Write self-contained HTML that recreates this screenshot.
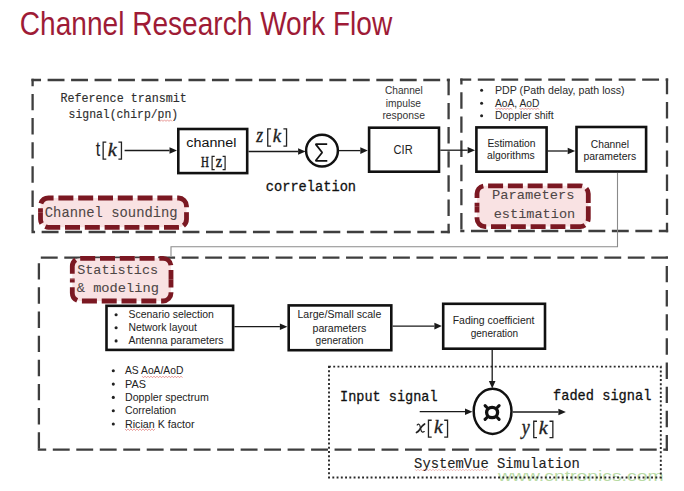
<!DOCTYPE html>
<html><head><meta charset="utf-8">
<style>
html,body{margin:0;padding:0;background:#fff;width:684px;height:491px;overflow:hidden}
svg{position:absolute;left:0;top:0;display:block}
</style></head><body>
<svg width="684" height="491" viewBox="0 0 684 491">
<text transform="translate(498.04,480.50) scale(1.2489,1.0000)" font-family="'Liberation Sans', sans-serif" font-weight="normal" font-style="normal" font-size="15.5" fill="#b9dba5">www.cntronics.com</text>
<text transform="translate(19.80,34.70) scale(0.8260,1.0000)" font-family="'Liberation Sans', sans-serif" font-weight="normal" font-style="normal" font-size="34" fill="#9e1b36">Channel Research Work Flow</text>
<path d="M31.45,80.00H41.02 M47.60,80.00H64.50 M71.08,80.00H87.98 M94.56,80.00H111.46 M118.04,80.00H134.94 M141.52,80.00H158.42 M165.00,80.00H181.90 M188.48,80.00H205.38 M211.96,80.00H228.86 M235.44,80.00H252.34 M258.92,80.00H275.82 M282.40,80.00H299.30 M305.88,80.00H322.78 M329.36,80.00H346.26 M352.84,80.00H369.74 M376.32,80.00H393.22 M399.80,80.00H416.70 M423.28,80.00H440.18 M446.76,80.00H449.75" stroke="#3e3e3e" stroke-width="2.3" fill="none"/>
<path d="M448.60,78.85V95.15 M448.60,102.90V119.30 M448.60,127.05V143.45 M448.60,151.20V167.60 M448.60,175.35V191.75 M448.60,199.50V215.90 M448.60,223.65V233.15" stroke="#3e3e3e" stroke-width="2.3" fill="none"/>
<path d="M31.45,232.00H35.06 M41.64,232.00H58.54 M65.12,232.00H82.02 M88.60,232.00H105.50 M112.08,232.00H128.98 M135.56,232.00H152.46 M159.04,232.00H175.94 M182.52,232.00H199.42 M206.00,232.00H222.90 M229.48,232.00H246.38 M252.96,232.00H269.86 M276.44,232.00H293.34 M299.92,232.00H316.82 M323.40,232.00H340.30 M346.88,232.00H363.78 M370.36,232.00H387.26 M393.84,232.00H410.74 M417.32,232.00H434.22 M440.80,232.00H449.75" stroke="#3e3e3e" stroke-width="2.3" fill="none"/>
<path d="M32.60,78.85V86.15 M32.60,93.90V110.30 M32.60,118.05V134.45 M32.60,142.20V158.60 M32.60,166.35V182.75 M32.60,190.50V206.90 M32.60,214.65V231.05" stroke="#3e3e3e" stroke-width="2.3" fill="none"/>
<path d="M460.25,79.60H471.22 M477.80,79.60H494.70 M501.28,79.60H518.18 M524.76,79.60H541.66 M548.24,79.60H565.14 M571.72,79.60H588.62 M595.20,79.60H612.10 M618.68,79.60H635.58 M642.16,79.60H659.06 M665.64,79.60H668.15" stroke="#3e3e3e" stroke-width="2.3" fill="none"/>
<path d="M667.00,78.45V94.35 M667.00,102.10V118.50 M667.00,126.25V142.65 M667.00,150.40V166.80 M667.00,174.55V190.95 M667.00,198.70V215.10 M667.00,222.85V232.15" stroke="#3e3e3e" stroke-width="2.3" fill="none"/>
<path d="M460.25,231.00H464.40 M470.98,231.00H487.88 M494.46,231.00H511.36 M517.94,231.00H534.84 M541.42,231.00H558.32 M564.90,231.00H581.80 M588.38,231.00H605.28 M611.86,231.00H628.76 M635.34,231.00H652.24 M658.82,231.00H668.15" stroke="#3e3e3e" stroke-width="2.3" fill="none"/>
<path d="M461.40,78.45V84.55 M461.40,92.30V108.70 M461.40,116.45V132.85 M461.40,140.60V157.00 M461.40,164.75V181.15 M461.40,188.90V205.30 M461.40,213.05V229.45" stroke="#3e3e3e" stroke-width="2.3" fill="none"/>
<path d="M40.80,257.70H57.70 M64.28,257.70H81.18 M87.76,257.70H104.66 M111.24,257.70H128.14 M134.72,257.70H151.62 M158.20,257.70H175.10 M181.68,257.70H198.58 M205.16,257.70H222.06 M228.64,257.70H245.54 M252.12,257.70H269.02 M275.60,257.70H292.50 M299.08,257.70H315.98 M322.56,257.70H339.46 M346.04,257.70H362.94 M369.52,257.70H386.42 M393.00,257.70H409.90 M416.48,257.70H433.38 M439.96,257.70H456.86 M463.44,257.70H480.34 M486.92,257.70H503.82 M510.40,257.70H527.30 M533.88,257.70H550.78 M557.36,257.70H574.26 M580.84,257.70H597.74 M604.32,257.70H621.22 M627.80,257.70H644.70 M651.28,257.70H667.95" stroke="#3e3e3e" stroke-width="2.3" fill="none"/>
<path d="M666.80,256.55V258.15 M666.80,265.90V282.30 M666.80,290.05V306.45 M666.80,314.20V330.60 M666.80,338.35V354.75 M666.80,362.50V378.90 M666.80,386.65V403.05 M666.80,410.80V427.20 M666.80,434.95V450.75" stroke="#3e3e3e" stroke-width="2.3" fill="none"/>
<path d="M37.75,449.60H46.22 M52.80,449.60H69.70 M76.28,449.60H93.18 M99.76,449.60H116.66 M123.24,449.60H140.14 M146.72,449.60H163.62 M170.20,449.60H187.10 M193.68,449.60H210.58 M217.16,449.60H234.06 M240.64,449.60H257.54 M264.12,449.60H281.02 M287.60,449.60H304.50 M311.08,449.60H327.98 M334.56,449.60H351.46 M358.04,449.60H374.94 M381.52,449.60H398.42 M405.00,449.60H421.90 M428.48,449.60H445.38 M451.96,449.60H468.86 M475.44,449.60H492.34 M498.92,449.60H515.82 M522.40,449.60H539.30 M545.88,449.60H562.78 M569.36,449.60H586.26 M592.84,449.60H609.74 M616.32,449.60H633.22 M639.80,449.60H656.70 M663.28,449.60H667.95" stroke="#3e3e3e" stroke-width="2.3" fill="none"/>
<path d="M38.90,263.20V279.60 M38.90,287.35V303.75 M38.90,311.50V327.90 M38.90,335.65V352.05 M38.90,359.80V376.20 M38.90,383.95V400.35 M38.90,408.10V424.50 M38.90,432.25V448.65" stroke="#3e3e3e" stroke-width="2.3" fill="none"/>
<rect x="329.0" y="366.6" width="331.79999999999995" height="110.89999999999998" fill="none" stroke="#2a2a2a" stroke-width="1.9" stroke-dasharray="1.9 2.35"/>
<path d="M617.5,173 V246.8 H171 V256" fill="none" stroke="#8a8a8a" stroke-width="1.1"/>
<path d="M40.50,206.00 A8,8 0 0 1 48.50,198.00 H178.50 A8,8 0 0 1 186.50,206.00 V219.30 A8,8 0 0 1 178.50,227.30 H48.50 A8,8 0 0 1 40.50,219.30 Z" fill="#f9e2e3" stroke="none"/><path d="M40.50,212.65 V206.00 A8,8 0 0 1 48.50,198.00 H178.50 A8,8 0 0 1 186.50,206.00 V212.65" fill="none" stroke="#7b1822" stroke-width="4.8" stroke-dasharray="15.0 4.8" stroke-dashoffset="10.58"/><path d="M186.50,212.65 V219.30 A8,8 0 0 1 178.50,227.30 H48.50 A8,8 0 0 1 40.50,219.30 V212.65" fill="none" stroke="#7b1822" stroke-width="4.8" stroke-dasharray="15.0 4.8" stroke-dashoffset="1.18"/>
<path d="M477.00,193.80 A8,8 0 0 1 485.00,185.80 H580.30 A8,8 0 0 1 588.30,193.80 V218.60 A8,8 0 0 1 580.30,226.60 H485.00 A8,8 0 0 1 477.00,218.60 Z" fill="#f9e2e3" stroke="none"/><path d="M477.00,206.20 V193.80 A8,8 0 0 1 485.00,185.80 H580.30 A8,8 0 0 1 588.30,193.80 V206.20" fill="none" stroke="#7b1822" stroke-width="4.8" stroke-dasharray="15.0 4.8" stroke-dashoffset="11.63"/><path d="M588.30,206.20 V218.60 A8,8 0 0 1 580.30,226.60 H485.00 A8,8 0 0 1 477.00,218.60 V206.20" fill="none" stroke="#7b1822" stroke-width="4.8" stroke-dasharray="15.0 4.8" stroke-dashoffset="19.63"/>
<path d="M72.30,266.30 A8,8 0 0 1 80.30,258.30 H163.00 A8,8 0 0 1 171.00,266.30 V293.00 A8,8 0 0 1 163.00,301.00 H80.30 A8,8 0 0 1 72.30,293.00 Z" fill="#f9e2e3" stroke="none"/><path d="M72.30,279.65 V266.30 A8,8 0 0 1 80.30,258.30 H163.00 A8,8 0 0 1 171.00,266.30 V279.65" fill="none" stroke="#7b1822" stroke-width="4.8" stroke-dasharray="15.0 4.8" stroke-dashoffset="13.88"/><path d="M171.00,279.65 V293.00 A8,8 0 0 1 163.00,301.00 H80.30 A8,8 0 0 1 72.30,293.00 V279.65" fill="none" stroke="#7b1822" stroke-width="4.8" stroke-dasharray="15.0 4.8" stroke-dashoffset="7.08"/>
<rect x="178.30" y="129.00" width="68.90" height="44.10" fill="none" stroke="#111" stroke-width="2.6"/>
<rect x="369.10" y="127.70" width="69.90" height="44.00" fill="none" stroke="#111" stroke-width="2.6"/>
<rect x="476.40" y="127.40" width="70.20" height="44.30" fill="none" stroke="#111" stroke-width="2.6"/>
<rect x="576.50" y="127.00" width="69.60" height="44.50" fill="none" stroke="#111" stroke-width="2.6"/>
<rect x="106.50" y="305.80" width="126.60" height="44.10" fill="none" stroke="#111" stroke-width="2.6"/>
<rect x="288.70" y="305.40" width="102.60" height="44.80" fill="none" stroke="#111" stroke-width="2.6"/>
<rect x="443.20" y="303.80" width="101.80" height="44.90" fill="none" stroke="#111" stroke-width="2.6"/>
<circle cx="322.0" cy="150.7" r="15.9" fill="none" stroke="#111" stroke-width="2.5"/>
<ellipse cx="492.6" cy="411.3" rx="18.9" ry="22.6" fill="none" stroke="#111" stroke-width="2.5"/>
<path d="M124.60,150.50 L169.50,150.50" stroke="#1a1a1a" stroke-width="1.3" fill="none"/><path d="M177.00,150.50 L169.50,153.80 L169.50,147.20 Z" fill="#1a1a1a"/>
<path d="M248.50,151.50 L298.10,151.50" stroke="#1a1a1a" stroke-width="1.3" fill="none"/><path d="M305.60,151.50 L298.10,154.80 L298.10,148.20 Z" fill="#1a1a1a"/>
<path d="M338.60,150.60 L360.30,150.60" stroke="#1a1a1a" stroke-width="1.3" fill="none"/><path d="M367.80,150.60 L360.30,153.90 L360.30,147.30 Z" fill="#1a1a1a"/>
<path d="M440.30,150.20 L467.60,150.20" stroke="#1a1a1a" stroke-width="1.3" fill="none"/><path d="M475.10,150.20 L467.60,153.50 L467.60,146.90 Z" fill="#1a1a1a"/>
<path d="M547.90,151.00 L567.70,151.00" stroke="#1a1a1a" stroke-width="1.3" fill="none"/><path d="M575.20,151.00 L567.70,154.30 L567.70,147.70 Z" fill="#1a1a1a"/>
<path d="M234.40,326.70 L279.90,326.70" stroke="#1a1a1a" stroke-width="1.3" fill="none"/><path d="M287.40,326.70 L279.90,330.00 L279.90,323.40 Z" fill="#1a1a1a"/>
<path d="M392.60,326.10 L434.40,326.10" stroke="#1a1a1a" stroke-width="1.3" fill="none"/><path d="M441.90,326.10 L434.40,329.40 L434.40,322.80 Z" fill="#1a1a1a"/>
<path d="M492.20,350.00 L492.20,380.90" stroke="#1a1a1a" stroke-width="1.3" fill="none"/><path d="M492.20,388.40 L488.90,380.90 L495.50,380.90 Z" fill="#1a1a1a"/>
<path d="M419.70,411.70 L465.00,411.70" stroke="#1a1a1a" stroke-width="1.3" fill="none"/><path d="M472.50,411.70 L465.00,415.00 L465.00,408.40 Z" fill="#1a1a1a"/>
<path d="M512.80,412.00 L558.40,412.00" stroke="#1a1a1a" stroke-width="1.3" fill="none"/><path d="M565.90,412.00 L558.40,415.30 L558.40,408.70 Z" fill="#1a1a1a"/>
<text transform="translate(60.50,102.10) scale(0.9678,1.0000)" font-family="'Liberation Mono', monospace" font-weight="normal" font-style="normal" font-size="12.1" fill="#2e2e2e" stroke="#2e2e2e" stroke-width="0.14" stroke-linejoin="round">Reference transmit</text>
<text transform="translate(68.60,117.90) scale(0.9442,1.0000)" font-family="'Liberation Mono', monospace" font-weight="normal" font-style="normal" font-size="12.1" fill="#2e2e2e" stroke="#2e2e2e" stroke-width="0.14" stroke-linejoin="round">signal(chirp/pn)</text>
<text transform="translate(95.80,155.63) scale(0.1619,0.2110)" font-family="'Liberation Sans', sans-serif" font-weight="normal" font-style="normal" font-size="100.0" fill="#222">t</text>
<path d="M106.30,142.05 H103.15 V159.05 H106.30" fill="none" stroke="#222" stroke-width="1.3"/>
<text transform="translate(107.70,155.80) scale(0.2004,0.1902)" font-family="'Liberation Serif', serif" font-weight="normal" font-style="italic" font-size="100.0" fill="#222" stroke="#222" stroke-width="1.792" stroke-linejoin="round">k</text>
<path d="M118.40,142.05 H121.45 V159.05 H118.40" fill="none" stroke="#222" stroke-width="1.3"/>
<text transform="translate(186.30,147.40) scale(1.0939,1.0000)" font-family="'Liberation Sans', sans-serif" font-weight="normal" font-style="normal" font-size="13.1" fill="#111">channel</text>
<text transform="translate(201.00,166.70) scale(0.1094,0.1542)" font-family="'Liberation Serif', serif" font-weight="normal" font-style="normal" font-size="100.0" fill="#1a1a1a" stroke="#1a1a1a" stroke-width="3.414" stroke-linejoin="round">H</text>
<path d="M214.70,156.40 H212.10 V169.70 H214.70" fill="none" stroke="#222" stroke-width="1.2"/>
<text transform="translate(215.70,166.70) scale(0.1419,0.1569)" font-family="'Liberation Serif', serif" font-weight="normal" font-style="normal" font-size="100.0" fill="#1a1a1a" stroke="#1a1a1a" stroke-width="3.013" stroke-linejoin="round">z</text>
<path d="M222.60,156.40 H225.10 V169.70 H222.60" fill="none" stroke="#222" stroke-width="1.2"/>
<text transform="translate(256.31,141.70) scale(0.1771,0.2135)" font-family="'Liberation Serif', serif" font-weight="normal" font-style="italic" font-size="100.0" fill="#222" stroke="#222" stroke-width="1.792" stroke-linejoin="round">z</text>
<path d="M271.10,128.95 H267.75 V146.05 H271.10" fill="none" stroke="#222" stroke-width="1.3"/>
<text transform="translate(272.70,141.70) scale(0.1874,0.1916)" font-family="'Liberation Serif', serif" font-weight="normal" font-style="italic" font-size="100.0" fill="#222" stroke="#222" stroke-width="1.847" stroke-linejoin="round">k</text>
<path d="M283.40,128.95 H286.55 V146.05 H283.40" fill="none" stroke="#222" stroke-width="1.3"/>
<path d="M327.2,144.1 H315.6 L322.2,152.5 L315.6,160.8 H327.3" fill="none" stroke="#111" stroke-width="1.75" stroke-linejoin="bevel"/>
<text transform="translate(265.80,190.60) scale(0.9842,1.0000)" font-family="'Liberation Mono', monospace" font-weight="normal" font-style="normal" font-size="13.9" fill="#111" stroke="#111" stroke-width="0.28" stroke-linejoin="round">correlation</text>
<text transform="translate(385.00,93.90) scale(0.9396,1.0000)" font-family="'Liberation Sans', sans-serif" font-weight="normal" font-style="normal" font-size="10.8" fill="#333">Channel</text>
<text transform="translate(385.80,106.50) scale(0.9458,1.0000)" font-family="'Liberation Sans', sans-serif" font-weight="normal" font-style="normal" font-size="10.8" fill="#333">impulse</text>
<text transform="translate(382.40,119.20) scale(0.9588,1.0000)" font-family="'Liberation Sans', sans-serif" font-weight="normal" font-style="normal" font-size="10.8" fill="#333">response</text>
<text transform="translate(393.60,154.00) scale(0.8665,1.0000)" font-family="'Liberation Sans', sans-serif" font-weight="normal" font-style="normal" font-size="12.8" fill="#222">CIR</text>
<text transform="translate(487.40,147.20) scale(0.9058,1.0000)" font-family="'Liberation Sans', sans-serif" font-weight="normal" font-style="normal" font-size="11.4" fill="#222">Estimation</text>
<text transform="translate(487.00,159.00) scale(0.9070,1.0000)" font-family="'Liberation Sans', sans-serif" font-weight="normal" font-style="normal" font-size="11.4" fill="#222">algorithms</text>
<text transform="translate(590.80,147.60) scale(0.8841,1.0000)" font-family="'Liberation Sans', sans-serif" font-weight="normal" font-style="normal" font-size="11.6" fill="#222">Channel</text>
<text transform="translate(583.40,160.00) scale(0.8999,1.0000)" font-family="'Liberation Sans', sans-serif" font-weight="normal" font-style="normal" font-size="11.6" fill="#222">parameters</text>
<circle cx="481.6" cy="90.3" r="1.5" fill="#222"/>
<circle cx="481.6" cy="103.2" r="1.5" fill="#222"/>
<circle cx="481.6" cy="115.8" r="1.5" fill="#222"/>
<text transform="translate(495.00,93.70) scale(1.0446,1.0000)" font-family="'Liberation Sans', sans-serif" font-weight="normal" font-style="normal" font-size="10.2" fill="#2a2a2a">PDP (Path delay, path loss)</text>
<text transform="translate(495.00,106.60) scale(1.0062,1.0000)" font-family="'Liberation Sans', sans-serif" font-weight="normal" font-style="normal" font-size="10.2" fill="#2a2a2a">AoA, AoD</text>
<text transform="translate(495.00,119.20) scale(1.0251,1.0000)" font-family="'Liberation Sans', sans-serif" font-weight="normal" font-style="normal" font-size="10.2" fill="#2a2a2a">Doppler shift</text>
<text transform="translate(44.80,217.10) scale(0.9747,1.0000)" font-family="'Liberation Mono', monospace" font-weight="normal" font-style="normal" font-size="14.2" fill="#4e4646" stroke="#4e4646" stroke-width="0.08" stroke-linejoin="round">Channel sounding</text>
<text transform="translate(492.00,199.20) scale(1.0109,1.0000)" font-family="'Liberation Mono', monospace" font-weight="normal" font-style="normal" font-size="13.6" fill="#4e4646" stroke="#4e4646" stroke-width="0.08" stroke-linejoin="round">Parameters</text>
<text transform="translate(493.70,217.90) scale(0.9998,1.0000)" font-family="'Liberation Mono', monospace" font-weight="normal" font-style="normal" font-size="13.6" fill="#4e4646" stroke="#4e4646" stroke-width="0.08" stroke-linejoin="round">estimation</text>
<text transform="translate(77.20,273.70) scale(0.9913,1.0000)" font-family="'Liberation Mono', monospace" font-weight="normal" font-style="normal" font-size="13.6" fill="#4e4646" stroke="#4e4646" stroke-width="0.08" stroke-linejoin="round">Statistics</text>
<text transform="translate(76.70,291.90) scale(1.0084,1.0000)" font-family="'Liberation Mono', monospace" font-weight="normal" font-style="normal" font-size="13.6" fill="#4e4646" stroke="#4e4646" stroke-width="0.08" stroke-linejoin="round">&amp; modeling</text>
<circle cx="116.1" cy="314.8" r="1.55" fill="#222"/>
<circle cx="116.1" cy="327.8" r="1.55" fill="#222"/>
<circle cx="116.1" cy="340.9" r="1.55" fill="#222"/>
<text transform="translate(128.50,318.30) scale(0.9689,1.0000)" font-family="'Liberation Sans', sans-serif" font-weight="normal" font-style="normal" font-size="10.8" fill="#222">Scenario selection</text>
<text transform="translate(128.50,331.30) scale(0.9590,1.0000)" font-family="'Liberation Sans', sans-serif" font-weight="normal" font-style="normal" font-size="10.8" fill="#222">Network layout</text>
<text transform="translate(128.50,344.40) scale(0.9728,1.0000)" font-family="'Liberation Sans', sans-serif" font-weight="normal" font-style="normal" font-size="10.8" fill="#222">Antenna parameters</text>
<text transform="translate(297.50,318.30) scale(0.9959,1.0000)" font-family="'Liberation Sans', sans-serif" font-weight="normal" font-style="normal" font-size="10.6" fill="#222">Large/Small scale</text>
<text transform="translate(312.50,331.50) scale(1.0035,1.0000)" font-family="'Liberation Sans', sans-serif" font-weight="normal" font-style="normal" font-size="10.6" fill="#222">parameters</text>
<text transform="translate(315.50,344.10) scale(0.9582,1.0000)" font-family="'Liberation Sans', sans-serif" font-weight="normal" font-style="normal" font-size="10.6" fill="#222">generation</text>
<text transform="translate(452.70,323.50) scale(1.0070,1.0000)" font-family="'Liberation Sans', sans-serif" font-weight="normal" font-style="normal" font-size="10.4" fill="#222">Fading coefficient</text>
<text transform="translate(470.70,337.10) scale(0.9664,1.0000)" font-family="'Liberation Sans', sans-serif" font-weight="normal" font-style="normal" font-size="10.4" fill="#222">generation</text>
<circle cx="113.3" cy="370.8" r="1.55" fill="#222"/>
<circle cx="113.3" cy="384.1" r="1.55" fill="#222"/>
<circle cx="113.3" cy="397.4" r="1.55" fill="#222"/>
<circle cx="113.3" cy="410.7" r="1.55" fill="#222"/>
<circle cx="113.3" cy="424.0" r="1.55" fill="#222"/>
<text transform="translate(125.00,374.40) scale(0.9733,1.0000)" font-family="'Liberation Sans', sans-serif" font-weight="normal" font-style="normal" font-size="10.6" fill="#222">AS AoA/AoD</text>
<text transform="translate(125.00,387.70) scale(1.0281,1.0000)" font-family="'Liberation Sans', sans-serif" font-weight="normal" font-style="normal" font-size="10.6" fill="#222">PAS</text>
<text transform="translate(125.00,401.00) scale(1.0029,1.0000)" font-family="'Liberation Sans', sans-serif" font-weight="normal" font-style="normal" font-size="10.6" fill="#222">Doppler spectrum</text>
<text transform="translate(125.00,414.30) scale(0.9856,1.0000)" font-family="'Liberation Sans', sans-serif" font-weight="normal" font-style="normal" font-size="10.6" fill="#222">Correlation</text>
<text transform="translate(125.00,427.60) scale(1.0098,1.0000)" font-family="'Liberation Sans', sans-serif" font-weight="normal" font-style="normal" font-size="10.6" fill="#222">Rician K factor</text>
<text transform="translate(340.00,400.70) scale(0.9681,1.0000)" font-family="'Liberation Mono', monospace" font-weight="normal" font-style="normal" font-size="14.0" fill="#111" stroke="#111" stroke-width="0.28" stroke-linejoin="round">Input signal</text>
<text transform="translate(553.00,400.30) scale(0.9770,1.0000)" font-family="'Liberation Mono', monospace" font-weight="normal" font-style="normal" font-size="14.0" fill="#111" stroke="#111" stroke-width="0.28" stroke-linejoin="round">faded signal</text>
<text transform="translate(414.10,468.00) scale(1.0016,1.0000)" font-family="'Liberation Mono', monospace" font-weight="normal" font-style="normal" font-size="13.8" fill="#222" stroke="#222" stroke-width="0.12" stroke-linejoin="round">SystemVue Simulation</text>
<path d="M424.6,424.0 Q421.6,426.0 420.4,428.3 Q418.9,431.3 416.5,432.6" fill="none" stroke="#222" stroke-width="1.7" stroke-linecap="round"/>
<path d="M417.2,425.0 Q419.2,423.0 420.0,425.8 L420.9,430.0 Q421.8,433.3 424.3,431.6" fill="none" stroke="#222" stroke-width="1.15" stroke-linecap="round"/>
<path d="M431.70,420.25 H428.45 V437.05 H431.70" fill="none" stroke="#222" stroke-width="1.3"/>
<text transform="translate(434.00,433.10) scale(0.1939,0.1916)" font-family="'Liberation Serif', serif" font-weight="normal" font-style="italic" font-size="100.0" fill="#222" stroke="#222" stroke-width="1.816" stroke-linejoin="round">k</text>
<path d="M444.20,420.25 H447.55 V437.05 H444.20" fill="none" stroke="#222" stroke-width="1.3"/>
<text transform="translate(521.81,433.69) scale(0.1796,0.2133)" font-family="'Liberation Serif', serif" font-weight="normal" font-style="italic" font-size="100.0" fill="#222" stroke="#222" stroke-width="1.782" stroke-linejoin="round">y</text>
<path d="M537.00,421.25 H533.75 V437.65 H537.00" fill="none" stroke="#222" stroke-width="1.3"/>
<text transform="translate(538.70,433.70) scale(0.2004,0.1888)" font-family="'Liberation Serif', serif" font-weight="normal" font-style="italic" font-size="100.0" fill="#222" stroke="#222" stroke-width="1.799" stroke-linejoin="round">k</text>
<path d="M549.50,421.25 H552.85 V437.65 H549.50" fill="none" stroke="#222" stroke-width="1.3"/>
<ellipse cx="492.1" cy="412.5" rx="5.5" ry="5.2" fill="none" stroke="#111" stroke-width="3.3"/>
<path d="M486.90,407.50 L485.10,405.70" stroke="#111" stroke-width="3.1" stroke-linecap="round"/>
<path d="M497.30,407.50 L499.10,405.70" stroke="#111" stroke-width="3.1" stroke-linecap="round"/>
<path d="M486.90,417.50 L485.10,419.30" stroke="#111" stroke-width="3.1" stroke-linecap="round"/>
<path d="M497.30,417.50 L499.10,419.30" stroke="#111" stroke-width="3.1" stroke-linecap="round"/>
<polyline points="158.50,119.80 160.00,121.40 161.50,119.80 163.00,121.40 164.50,119.80 166.00,121.40 167.50,119.80 169.00,121.40 170.50,119.80 172.00,121.40" fill="none" stroke="#d9534f" stroke-width="0.8" opacity="0.7"/>
<polyline points="495.50,108.00 497.00,109.60 498.50,108.00 500.00,109.60 501.50,108.00 503.00,109.60 504.50,108.00 506.00,109.60 507.50,108.00 509.00,109.60 510.50,108.00 512.00,109.60" fill="none" stroke="#d9534f" stroke-width="0.8" opacity="0.7"/>
<polyline points="519.50,108.00 521.00,109.60 522.50,108.00 524.00,109.60 525.50,108.00 527.00,109.60 528.50,108.00 530.00,109.60 531.50,108.00 533.00,109.60 534.50,108.00 536.00,109.60 537.50,108.00 539.00,109.60" fill="none" stroke="#d9534f" stroke-width="0.8" opacity="0.7"/>
<polyline points="142.00,376.10 143.50,377.70 145.00,376.10 146.50,377.70 148.00,376.10 149.50,377.70 151.00,376.10 152.50,377.70 154.00,376.10 155.50,377.70 157.00,376.10 158.50,377.70 160.00,376.10 161.50,377.70 163.00,376.10 164.50,377.70 166.00,376.10 167.50,377.70 169.00,376.10 170.50,377.70 172.00,376.10 173.50,377.70 175.00,376.10 176.50,377.70 178.00,376.10 179.50,377.70 181.00,376.10 182.50,377.70" fill="none" stroke="#d9534f" stroke-width="0.8" opacity="0.7"/>
<polyline points="125.00,428.90 126.50,430.50 128.00,428.90 129.50,430.50 131.00,428.90 132.50,430.50 134.00,428.90 135.50,430.50 137.00,428.90 138.50,430.50 140.00,428.90 141.50,430.50 143.00,428.90 144.50,430.50 146.00,428.90 147.50,430.50 149.00,428.90 150.50,430.50 152.00,428.90 153.50,430.50 155.00,428.90" fill="none" stroke="#d9534f" stroke-width="0.8" opacity="0.7"/>
<polyline points="415.00,469.20 416.50,470.80 418.00,469.20 419.50,470.80 421.00,469.20 422.50,470.80 424.00,469.20 425.50,470.80 427.00,469.20 428.50,470.80 430.00,469.20 431.50,470.80 433.00,469.20 434.50,470.80 436.00,469.20 437.50,470.80 439.00,469.20 440.50,470.80 442.00,469.20 443.50,470.80 445.00,469.20 446.50,470.80 448.00,469.20 449.50,470.80 451.00,469.20 452.50,470.80 454.00,469.20 455.50,470.80 457.00,469.20 458.50,470.80 460.00,469.20 461.50,470.80 463.00,469.20 464.50,470.80 466.00,469.20 467.50,470.80 469.00,469.20 470.50,470.80 472.00,469.20 473.50,470.80 475.00,469.20 476.50,470.80 478.00,469.20 479.50,470.80 481.00,469.20 482.50,470.80 484.00,469.20 485.50,470.80 487.00,469.20 488.50,470.80" fill="none" stroke="#d9534f" stroke-width="0.8" opacity="0.45"/>
</svg>
</body></html>
